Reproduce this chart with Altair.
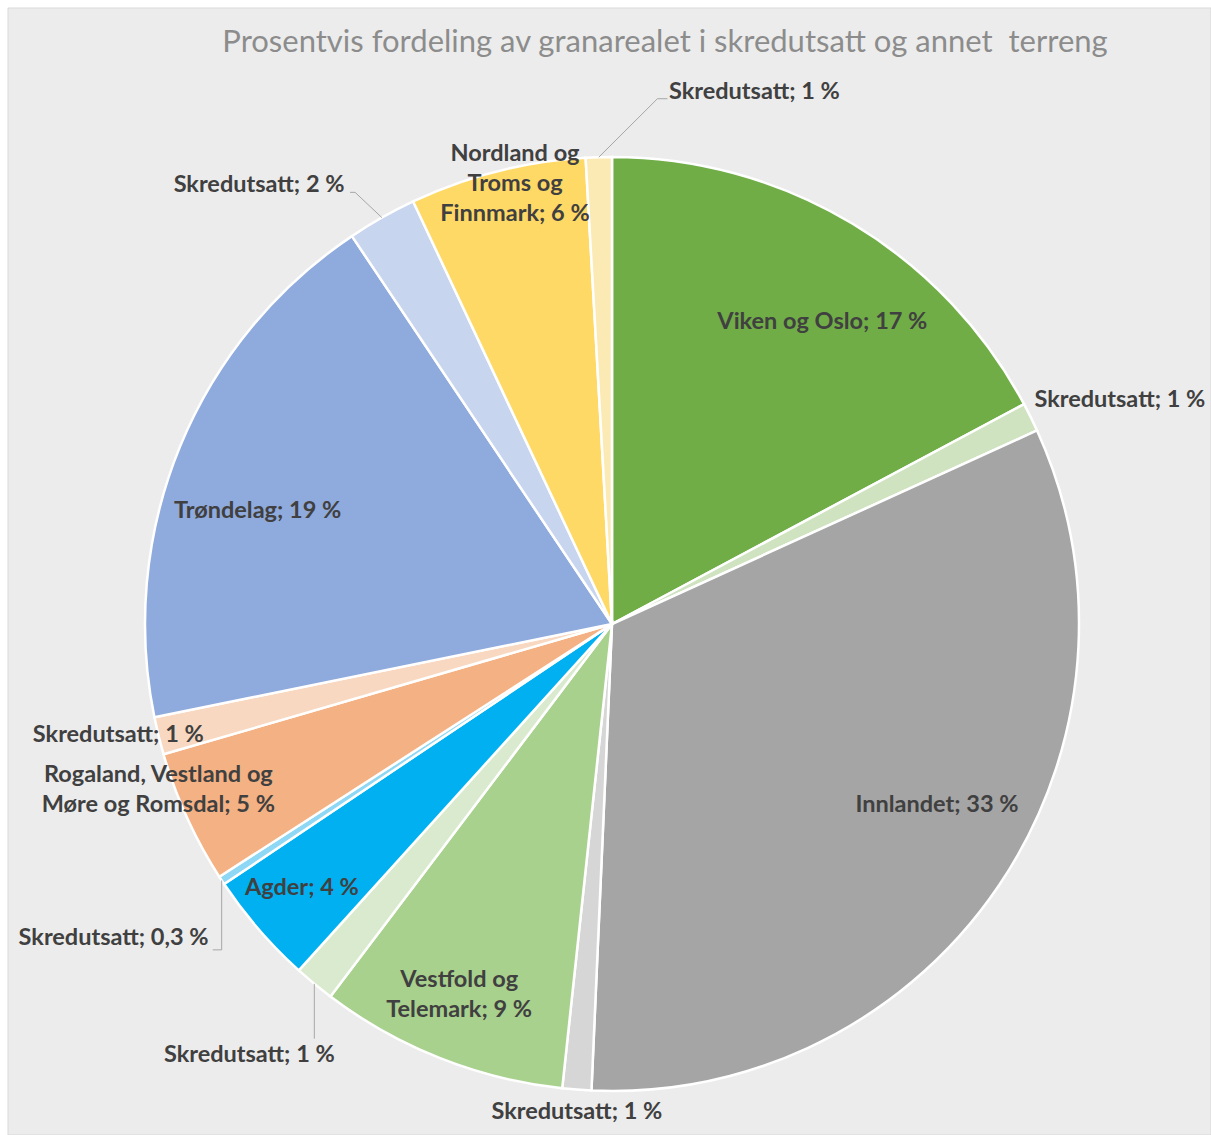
import math
import altair as alt
import pandas as pd

# ---------------- data ----------------
regions = [
    "Viken og Oslo", "Skredutsatt", "Innlandet", "Skredutsatt",
    "Vestfold og\nTelemark", "Skredutsatt", "Agder", "Skredutsatt",
    "Rogaland, Vestland og\nMøre og Romsdal", "Skredutsatt", "Trøndelag",
    "Skredutsatt", "Nordland og\nTroms og\nFinnmark", "Skredutsatt",
]
values = [17.2, 1.0, 32.5, 1.0, 8.6, 1.4, 3.9, 0.3, 4.6, 1.3, 18.8, 2.4, 6.1, 0.9]
colors = [
    "#70AD47", "#CFE3C0", "#A5A5A5", "#D6D6D6",
    "#A9D18E", "#DAEACE", "#00B0F0", "#8ED8F6",
    "#F4B183", "#F9D8C1", "#8FAADC", "#C8D5EE",
    "#FFD966", "#FCEAB4",
]
title_text = "Prosentvis fordeling av granarealet i skredutsatt og annet\u00a0 terreng"

# ---------------- layout (styling only) ----------------
CX, CY, R = 612, 624, 467
LH = 30
label_nudge = [3.9, 2.5, -4.9, -0.2, 0.8, 0.5, 0.5, 1.1, 4.4, 1.2, -4.6, -9.3, 1.8, 16.6]
label_radius = [368, 555, 372, 489, 401, 563, 407, 589, 483, 506, 372, 563, 451, 551]
leaders = [13, 11, 7, 5]  # slices whose outside label gets a leader line


def fmt(v):
    if v < 0.5:
        return f"{v:.1f}".replace(".", ",")
    return str(math.floor(v + 0.5))


sids = [f"s{i:02d}" for i in range(len(values))]
total = sum(values)
ends, acc = [], 0.0
for v in values:
    acc += v
    ends.append(acc)
mids = [(e - v / 2) / total * 360 for e, v in zip(ends, values)]

df = pd.DataFrame({"sid": sids, "idx": list(range(len(values))), "value": values})

lab_rows = []
for i, (name, v) in enumerate(zip(regions, values)):
    a = math.radians(mids[i] + label_nudge[i])
    r = label_radius[i]
    txt = f"{name}; {fmt(v)} %"
    n = txt.count("\n") + 1
    lab_rows.append({
        "text": txt,
        "lx": CX + r * math.sin(a),
        "ly": CY - r * math.cos(a),
        "ty": CY - r * math.cos(a) - (n - 1) * LH / 2,
    })
labels = pd.DataFrame(lab_rows)

line_rows = []
for i in leaders:
    a = math.radians(mids[i])
    sx, sy = CX + R * math.sin(a), CY - R * math.cos(a)
    lx, ly = lab_rows[i]["lx"], lab_rows[i]["ly"]
    if i == 13:
        pts = [(sx, sy), (lx - 97, ly + 7), (lx - 87, ly + 7)]
    elif i == 11:
        pts = [(sx, sy), (lx + 96, ly + 7), (lx + 91, ly + 7)]
    elif i == 7:
        pts = [(sx, sy), (sx, ly + 12), (sx - 9, ly + 12)]
    else:
        pts = [(sx, sy), (sx, ly - 16)]
    for k, (px, py) in enumerate(pts):
        line_rows.append({"lid": f"l{i}", "ord": k, "px": px, "py": py})
lines = pd.DataFrame(line_rows)

# ---------------- chart ----------------
bg = alt.Chart(pd.DataFrame({"a": [0]})).mark_rect(
    fill="#ECECEC", stroke="#D9D9D9", strokeWidth=1
).encode(x=alt.value(8), x2=alt.value(1211), y=alt.value(8), y2=alt.value(1135))

title = alt.Chart(pd.DataFrame({"t": [title_text]})).mark_text(
    font="Lato", fontSize=31, color="#8C8C8C", align="center", baseline="middle"
).encode(x=alt.value(665), y=alt.value(43), text="t:N")

arcs = alt.Chart(df).mark_arc(outerRadius=R, stroke="white", strokeWidth=2.5).encode(
    theta=alt.Theta("value:Q", stack=True),
    order=alt.Order("idx:Q", sort="ascending"),
    color=alt.Color("sid:N", scale=alt.Scale(domain=sids, range=colors), legend=None),
    x=alt.value(CX),
    y=alt.value(CY),
)

leader = alt.Chart(lines).mark_line(color="#A6A6A6", strokeWidth=1).encode(
    x=alt.X("px:Q", scale=None),
    y=alt.Y("py:Q", scale=None),
    detail="lid:N",
    order="ord:Q",
)

text = alt.Chart(labels).mark_text(
    font="Lato", fontSize=23.5, fontWeight="bold", color="#404040",
    lineBreak="\n", lineHeight=LH, align="center", baseline="middle",
).encode(
    x=alt.X("lx:Q", scale=None),
    y=alt.Y("ty:Q", scale=None),
    text="text:N",
)

chart = alt.layer(bg, title, arcs, leader, text).properties(
    width=1211, height=1135, padding=0, background="white",
    autosize=alt.AutoSizeParams(type="none"),
).configure_view(stroke=None)

chart.save("out.html", embed_options={"renderer": "svg", "actions": False})
